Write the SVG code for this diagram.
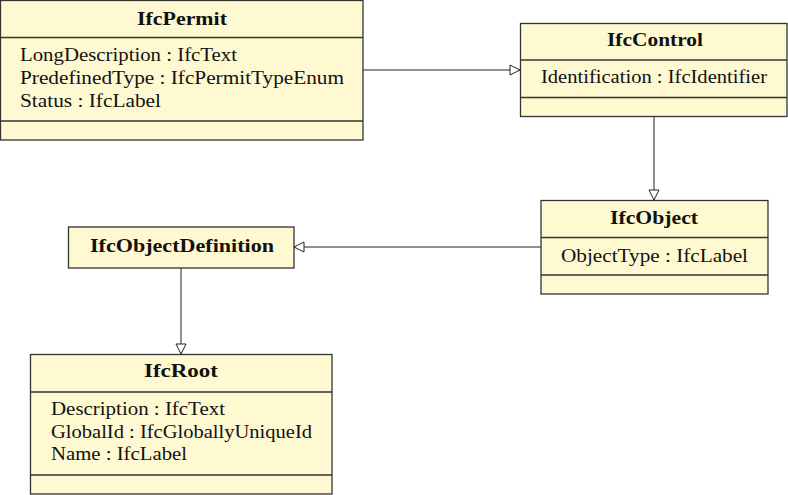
<svg xmlns="http://www.w3.org/2000/svg" width="788" height="495" viewBox="0 0 788 495">
<style>
.box{fill:#fff9d1;stroke:#333;stroke-width:1.3}
.div{stroke:#333;stroke-width:1.3}
.t{font-family:"Liberation Serif","DejaVu Serif",serif;font-size:18px;fill:#111}
.b{font-weight:bold}
.c{fill:none;stroke:#222;stroke-width:1}
</style>
<defs>
<marker id="gen" viewBox="0 0 12 12" refX="11" refY="6" markerWidth="12" markerHeight="12" markerUnits="userSpaceOnUse" orient="auto">
<path d="M1,1 L11,6 L1,11 Z" fill="#fff" stroke="#222" stroke-width="1"/>
</marker>
</defs>
<rect width="788" height="495" fill="#fff"/>
<g id="connectors">
<line class="c" x1="363" y1="70" x2="520" y2="70" marker-end="url(#gen)"/>
<line class="c" x1="654" y1="116" x2="654" y2="200" marker-end="url(#gen)"/>
<line class="c" x1="541" y1="247" x2="294" y2="247" marker-end="url(#gen)"/>
<line class="c" x1="181" y1="268" x2="181" y2="354" marker-end="url(#gen)"/>
</g>
<g id="IfcPermit">
<rect class="box" x="0.5" y="0.5" width="362.5" height="139.5"/>
<line class="div" x1="0.5" y1="37.5" x2="363" y2="37.5"/>
<line class="div" x1="0.5" y1="121" x2="363" y2="121"/>
<text class="t b" x="137" y="25" textLength="90" lengthAdjust="spacingAndGlyphs">IfcPermit</text>
<text class="t" x="20" y="61" textLength="217" lengthAdjust="spacingAndGlyphs">LongDescription : IfcText</text>
<text class="t" x="20" y="84" textLength="324" lengthAdjust="spacingAndGlyphs">PredefinedType : IfcPermitTypeEnum</text>
<text class="t" x="20" y="107" textLength="141" lengthAdjust="spacingAndGlyphs">Status : IfcLabel</text>
</g>
<g id="IfcControl">
<rect class="box" x="520.5" y="23.5" width="266.5" height="93"/>
<line class="div" x1="520.5" y1="60" x2="787" y2="60"/>
<line class="div" x1="520.5" y1="97.5" x2="787" y2="97.5"/>
<text class="t b" x="607" y="46" textLength="96" lengthAdjust="spacingAndGlyphs">IfcControl</text>
<text class="t" x="541" y="83" textLength="226" lengthAdjust="spacingAndGlyphs">Identification : IfcIdentifier</text>
</g>
<g id="IfcObject">
<rect class="box" x="541" y="200.5" width="227" height="93.5"/>
<line class="div" x1="541" y1="237.5" x2="768" y2="237.5"/>
<line class="div" x1="541" y1="275" x2="768" y2="275"/>
<text class="t b" x="610" y="224" textLength="88" lengthAdjust="spacingAndGlyphs">IfcObject</text>
<text class="t" x="561" y="262" textLength="187" lengthAdjust="spacingAndGlyphs">ObjectType : IfcLabel</text>
</g>
<g id="IfcObjectDefinition">
<rect class="box" x="68.5" y="227" width="225.5" height="41"/>
<text class="t b" x="90" y="252" textLength="184" lengthAdjust="spacingAndGlyphs">IfcObjectDefinition</text>
</g>
<g id="IfcRoot">
<rect class="box" x="30.5" y="354.5" width="301.5" height="139.5"/>
<line class="div" x1="30.5" y1="392" x2="332" y2="392"/>
<line class="div" x1="30.5" y1="475" x2="332" y2="475"/>
<text class="t b" x="144" y="377" textLength="74" lengthAdjust="spacingAndGlyphs">IfcRoot</text>
<text class="t" x="51" y="415" textLength="174" lengthAdjust="spacingAndGlyphs">Description : IfcText</text>
<text class="t" x="51" y="438" textLength="261" lengthAdjust="spacingAndGlyphs">GlobalId : IfcGloballyUniqueId</text>
<text class="t" x="51" y="460" textLength="136" lengthAdjust="spacingAndGlyphs">Name : IfcLabel</text>
</g>
</svg>
